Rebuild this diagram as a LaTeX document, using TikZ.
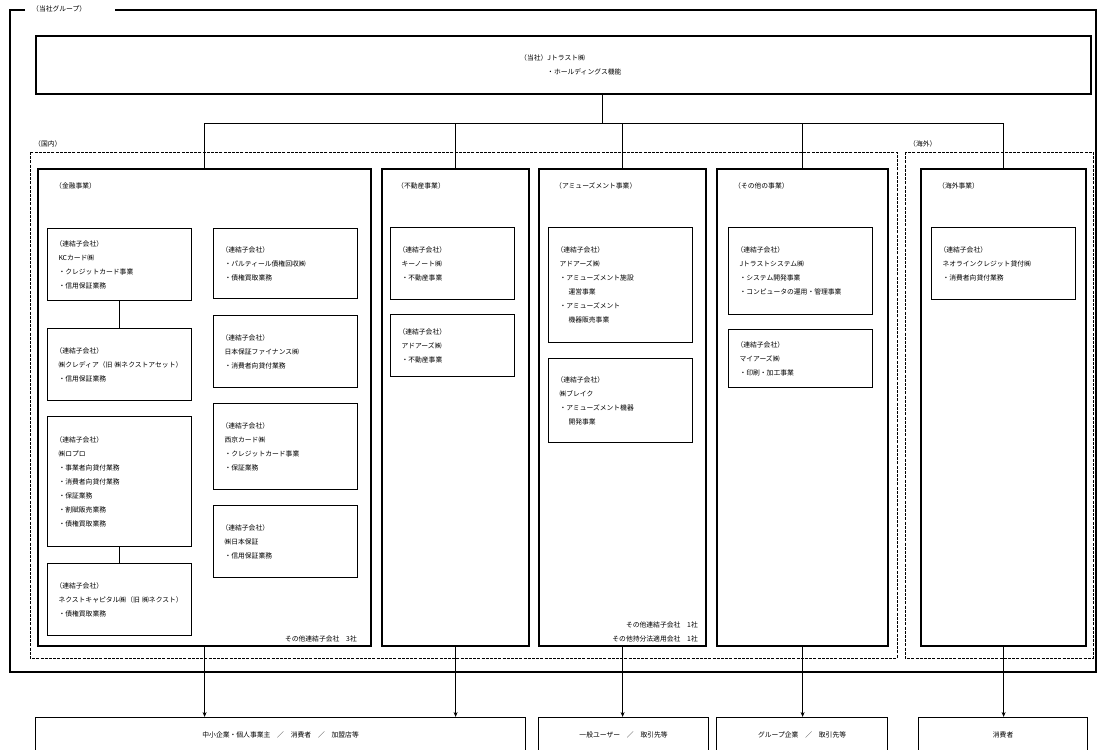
\documentclass[tikz,border=0pt]{standalone}
\usepackage{fontspec}
\setmainfont{Noto Sans CJK JP}
\usetikzlibrary{arrows.meta, positioning}

\begin{document}
\begin{tikzpicture}[
    x=1pt, y=-1pt,
    every node/.style={font=\fontsize{6.8}{14}\selectfont},
    txt/.style={inner sep=0pt, anchor=west},
    topbox/.style={draw, line width=1.6pt, anchor=north west, minimum width=1055pt, minimum height=58pt},
    segbox/.style={draw, line width=2.2pt, anchor=north west, minimum height=477pt},
    subbox/.style={draw, line width=1pt, anchor=north west, align=left, inner xsep=8pt, text width=128pt},
    custbox/.style={draw, line width=1.2pt, anchor=north west, minimum height=34pt},
    frame/.style={line width=1.4pt},
    region/.style={dash pattern=on 3pt off 1.2pt, line width=0.8pt},
    link/.style={line width=1pt},
    arrow/.style={-{Stealth[length=5pt, width=4pt]}, line width=1pt}
]
    \useasboundingbox (0,0) rectangle (1099,749);
    \clip (0,0) rectangle (1099,749);

    % group frame and regions
    \draw[frame] (25,10) -- (10,10) -- (10,672) -- (1096,672) -- (1096,10) -- (115,10);
    \node[txt] (grplbl) at (32,9) {（当社グループ）};
    \draw[region] (30,152) rectangle (897,658);
    \node[txt] (domlbl) at (34,144) {（国内）};
    \draw[region] (905,152) rectangle (1093,658);
    \node[txt] (ovslbl) at (909,144) {（海外）};

    % holding company
    \node[topbox] (top) at (35,35) {};
    \node[txt, align=left] (toptxt) at (520,65) {（当社）Jトラスト㈱\\\hspace*{27pt}・ホールディングス機能};

    % segments
    \node[segbox, minimum width=333pt] (fin) at (37,168) {};
    \node[segbox, minimum width=147pt] (re) at (381,168) {};
    \node[segbox, minimum width=167pt] (am) at (538,168) {};
    \node[segbox, minimum width=171pt] (ot) at (716,168) {};
    \node[segbox, minimum width=165pt] (ov) at (920,168) {};

    \node[txt] (finlbl) at (55,186) {（金融事業）};
    \node[txt] (relbl) at (397,186) {（不動産事業）};
    \node[txt] (amlbl) at (555,186) {（アミューズメント事業）};
    \node[txt] (otlbl) at (734,186) {（その他の事業）};
    \node[txt] (ovlbl) at (938,186) {（海外事業）};

    % financial
    \node[subbox, minimum height=72pt] (fin1) at (47,228) {（連結子会社）\\\hspace*{3pt}KCカード㈱\\\hspace*{3pt}・クレジットカード事業\\\hspace*{3pt}・信用保証業務};
    \node[subbox, minimum height=72pt, below=27pt of fin1] (fin2) {（連結子会社）\\\hspace*{3pt}㈱クレディア（旧 ㈱ネクストアセット）\\\hspace*{3pt}・信用保証業務};
    \node[subbox, minimum height=130pt, below=15pt of fin2] (fin3) {（連結子会社）\\\hspace*{3pt}㈱ロプロ\\\hspace*{3pt}・事業者向貸付業務\\\hspace*{3pt}・消費者向貸付業務\\\hspace*{3pt}・保証業務\\\hspace*{3pt}・割賦販売業務\\\hspace*{3pt}・債権買取業務};
    \node[subbox, minimum height=72pt, below=16pt of fin3] (fin4) {（連結子会社）\\\hspace*{3pt}ネクストキャピタル㈱（旧 ㈱ネクスト）\\\hspace*{3pt}・債権買取業務};
    \draw[link] (fin1) -- (fin2);
    \draw[link] (fin3) -- (fin4);

    \node[subbox, minimum height=70pt] (finA) at (213,228) {（連結子会社）\\\hspace*{3pt}・パルティール債権回収㈱\\\hspace*{3pt}・債権買取業務};
    \node[subbox, minimum height=72pt, below=16pt of finA] (finB) {（連結子会社）\\\hspace*{3pt}日本保証ファイナンス㈱\\\hspace*{3pt}・消費者向貸付業務};
    \node[subbox, minimum height=86pt, below=15pt of finB] (finC) {（連結子会社）\\\hspace*{3pt}西京カード㈱\\\hspace*{3pt}・クレジットカード事業\\\hspace*{3pt}・保証業務};
    \node[subbox, minimum height=72pt, below=15pt of finC] (finD) {（連結子会社）\\\hspace*{3pt}㈱日本保証\\\hspace*{3pt}・信用保証業務};
    \node[txt, anchor=east] (finrest) at (357,639) {その他連結子会社\quad 3社};

    % real estate
    \node[subbox, text width=108pt, minimum height=72pt] (re1) at (390,227) {（連結子会社）\\\hspace*{3pt}キーノート㈱\\\hspace*{3pt}・不動産事業};
    \node[subbox, text width=108pt, minimum height=62pt, below=14pt of re1] (re2) {（連結子会社）\\\hspace*{3pt}アドアーズ㈱\\\hspace*{3pt}・不動産事業};

    % amusement
    \node[subbox, minimum height=115pt] (am1) at (548,227) {（連結子会社）\\\hspace*{3pt}アドアーズ㈱\\\hspace*{3pt}・アミューズメント施設\\\hspace*{12pt}運営事業\\\hspace*{3pt}・アミューズメント\\\hspace*{12pt}機器販売事業};
    \node[subbox, minimum height=84pt, below=15pt of am1] (am2) {（連結子会社）\\\hspace*{3pt}㈱ブレイク\\\hspace*{3pt}・アミューズメント機器\\\hspace*{12pt}開発事業};
    \node[txt, anchor=east, align=right] (amrest) at (698,632) {その他連結子会社\quad 1社\\その他持分法適用会社\quad 1社};

    % other
    \node[subbox, minimum height=87pt] (ot1) at (728,227) {（連結子会社）\\\hspace*{3pt}Jトラストシステム㈱\\\hspace*{3pt}・システム開発事業\\\hspace*{3pt}・コンピュータの運用・管理事業};
    \node[subbox, minimum height=58pt, below=14pt of ot1] (ot2) {（連結子会社）\\\hspace*{3pt}マイアーズ㈱\\\hspace*{3pt}・印刷・加工事業};

    % overseas
    \node[subbox, minimum height=72pt] (ov1) at (931,227) {（連結子会社）\\\hspace*{3pt}ネオラインクレジット貸付㈱\\\hspace*{3pt}・消費者向貸付業務};

    % customers
    \node[custbox, minimum width=490pt] (cust1) at (35,717) {中小企業・個人事業主\quad ／\quad 消費者\quad ／\quad 加盟店等};
    \node[custbox, minimum width=170pt] (cust2) at (538,717) {一般ユーザー\quad ／\quad 取引先等};
    \node[custbox, minimum width=171pt] (cust3) at (716,717) {グループ企業\quad ／\quad 取引先等};
    \node[custbox, minimum width=169pt] (cust4) at (918,717) {消費者};

    % connectors
    \coordinate (trunk) at (602,123);
    \draw[link] (top.south -| trunk) -- (trunk);
    \draw[link] (fin.north |- trunk) -- (ov.north |- trunk);
    \foreach \s in {fin,re,am,ot,ov}
        \draw[link] (\s.north |- trunk) -- (\s.north);

    \draw[arrow] (fin.south) -- (fin.south |- cust1.north);
    \draw[arrow] (re.south) -- (re.south |- cust1.north);
    \draw[arrow] (am.south) -- (am.south |- cust2.north);
    \draw[arrow] (ot.south) -- (ot.south |- cust3.north);
    \draw[arrow] (ov.south) -- (ov.south |- cust4.north);
\end{tikzpicture}
\end{document}
